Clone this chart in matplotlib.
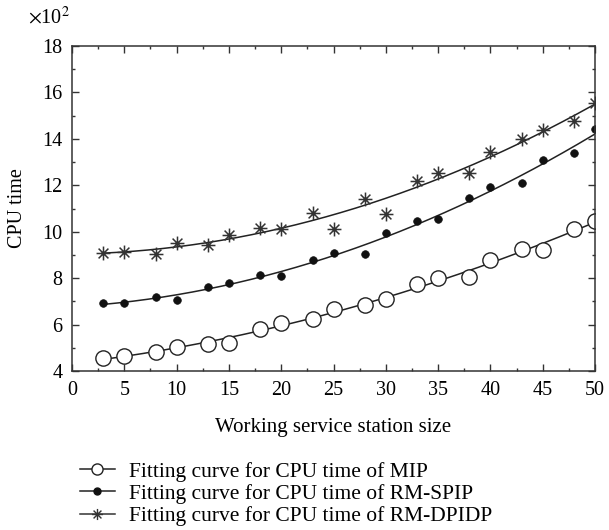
import numpy as np
import matplotlib.pyplot as plt
from matplotlib.path import Path
from matplotlib.lines import Line2D
from matplotlib.ticker import MultipleLocator

plt.rcParams['font.family'] = ['Liberation Serif', 'DejaVu Serif']
plt.rcParams['mathtext.fontset'] = 'stix'

# working service station size
size = [3, 5, 8, 10, 13, 15, 18, 20, 23, 25, 28, 30, 33, 35, 38, 40, 43, 45, 48, 50]

# CPU time (x10^2)
cpu_mip = [4.55, 4.66, 4.81, 5.05, 5.15, 5.22, 5.82, 6.05, 6.25, 6.66,
           6.84, 7.09, 7.74, 8.0, 8.07, 8.78, 9.24, 9.2, 10.1, 10.48]
cpu_spip = [6.92, 6.93, 7.2, 7.06, 7.63, 7.79, 8.14, 8.1, 8.78, 9.09,
            9.06, 9.93, 10.45, 10.55, 11.47, 11.93, 12.1, 13.09, 13.38, 14.43]
cpu_dpidp = [9.07, 9.14, 9.06, 9.5, 9.42, 9.86, 10.18, 10.1, 10.8, 10.12,
             11.41, 10.75, 12.19, 12.55, 12.55, 13.45, 13.99, 14.39, 14.75, 15.54]

labels = ['Fitting curve for CPU time of MIP',
          'Fitting curve for CPU time of RM-SPIP',
          'Fitting curve for CPU time of RM-DPIDP']

# 8-armed asterisk marker
r2 = np.sqrt(0.5)
star = Path([(-1, 0), (1, 0), (0, -1), (0, 1), (-r2, -r2), (r2, r2), (-r2, r2), (r2, -r2)],
            [Path.MOVETO, Path.LINETO] * 4)

fig = plt.figure(figsize=(6.09, 5.30), dpi=100)
ax = fig.add_axes([72 / 609, 1 - 371 / 530, 523 / 609, 325 / 530])

x = np.array(size)
xs = np.linspace(3, 50, 200)
styles = [
    dict(marker='o', ms=11, mfc='white', mec='#222222', mew=1.0),
    dict(marker='o', ms=5.5, mfc='#111111', mec='#111111', mew=0.5),
    dict(marker=star, ms=10, mfc='none', mec='#333333', mew=1.1),
]
for y, st in zip([cpu_mip, cpu_spip, cpu_dpidp], styles):
    coef = np.polyfit(x, y, 2)
    ax.plot(xs, np.polyval(coef, xs), color='#222222', lw=1.1)
    ax.plot(x, y, ls='none', **st)

ax.set_xlim(0, 50)
ax.set_ylim(4, 18)
ax.xaxis.set_major_locator(MultipleLocator(5))
ax.xaxis.set_minor_locator(MultipleLocator(2.5))
ax.yaxis.set_major_locator(MultipleLocator(2))
ax.yaxis.set_minor_locator(MultipleLocator(1))
ax.tick_params(which='both', direction='in', top=True, right=True, labelsize=14.5,
               color='#333333', pad=7)
ax.tick_params(which='major', length=5, width=1)
ax.tick_params(which='minor', length=2.5, width=1)
for sp in ax.spines.values():
    sp.set_color('#333333')
    sp.set_linewidth(1.1)

ax.set_xlabel('Working service station size', fontsize=15, labelpad=13)
ax.set_ylabel('CPU time', fontsize=14.5, labelpad=11)
ax.text(-0.004, 1.055, r'$\times$10$^2$', transform=ax.transAxes, ha='right',
        va='bottom', fontsize=14.5)

handles = [Line2D([], [], color='#222222', lw=1.1, marker='o', ms=8, mfc='white',
                  mec='#222222'),
           Line2D([], [], color='#222222', lw=1.1, marker='o', ms=5, mfc='#111111',
                  mec='#111111'),
           Line2D([], [], color='#333333', lw=1.1, marker=star, ms=8, mfc='none',
                  mec='#333333')]
fig.legend(handles, labels, loc='upper left', bbox_to_anchor=(71 / 609, 1 - 453 / 530),
           frameon=False, fontsize=15.5, handlelength=1.65, handletextpad=0.65,
           labelspacing=0.1, borderaxespad=0)

fig.savefig('out.png', dpi=100)
